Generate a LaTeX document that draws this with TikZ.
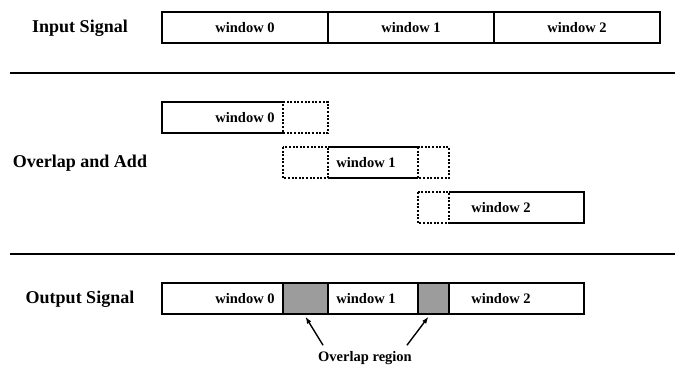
\documentclass[tikz,border=0pt]{standalone}
\usepackage{fontspec}
\setmainfont{Liberation Serif}
\usepackage{tikz}
\usetikzlibrary{arrows.meta, positioning, calc, fit}
\definecolor{overlapgray}{HTML}{9C9C9C}

\begin{document}
\begin{tikzpicture}[x=1pt, y=-1pt,
  window/.style={minimum width=166pt, minimum height=31pt, inner sep=0pt, outer sep=0pt, anchor=north west, font=\fontsize{14.5}{16}\selectfont\bfseries},
  rowlabel/.style={font=\fontsize{18}{20}\selectfont\bfseries},
  solidedge/.style={line width=1.4pt},
  dashedge/.style={line width=1.2pt, dash pattern=on 2pt off 1.6pt},
  rule/.style={line width=1.6pt},
  arrow/.style={-{Latex[length=7pt, width=5pt]}, line width=1.4pt},
]
\useasboundingbox (0,0) rectangle (675,366);

% Input signal
\node[rowlabel] (inlabel) at (80,28) {Input Signal};
\node[window, draw, solidedge] (in0) at (162,12) {window 0};
\node[window, draw, solidedge, right=0pt of in0] (in1) {window 1};
\node[window, draw, solidedge, right=0pt of in1] (in2) {window 2};

\draw[rule] (10,73) -- (675,73);

% Overlap and add
\node[rowlabel] (ovlabel) at (80,163) {Overlap and Add};
\node[window] (ov0) at (162,102) {window 0};
\node[window] (ov1) at (283,147) {window 1};
\node[window] (ov2) at (418,192) {window 2};

\draw[solidedge] (ov1.west |- ov0.north) -- (ov0.north west) -- (ov0.south west) -- (ov1.west |- ov0.south);
\draw[dashedge] (ov1.west |- ov0.north) -- (ov0.north east) -- (ov0.south east) -- (ov1.west |- ov0.south) -- cycle;

\draw[solidedge] (ov0.east |- ov1.north) -- (ov2.west |- ov1.north);
\draw[solidedge] (ov0.east |- ov1.south) -- (ov2.west |- ov1.south);
\draw[dashedge] (ov1.north west) rectangle (ov0.east |- ov1.south);
\draw[dashedge] (ov2.west |- ov1.north) rectangle (ov1.south east);

\draw[dashedge] (ov2.north west) rectangle (ov1.east |- ov2.south);
\draw[solidedge] (ov1.east |- ov2.north) -- (ov2.north east) -- (ov2.south east) -- (ov1.east |- ov2.south);

\draw[rule] (10,254) -- (675,254);

% Output signal
\node[rowlabel] (outlabel) at (80,299) {Output Signal};
\node[window] (out0) at (162,283) {window 0};
\node[window] (out1) at (283,283) {window 1};
\node[window] (out2) at (418,283) {window 2};
\draw[solidedge] (out0.north west) rectangle (out2.south east);
\node[fit=(out1.north west)(out0.south east), inner sep=0pt, draw, solidedge, fill=overlapgray] (gap0) {};
\node[fit=(out2.north west)(out1.south east), inner sep=0pt, draw, solidedge, fill=overlapgray] (gap1) {};

\node[inner sep=0pt, font=\fontsize{14.5}{16}\selectfont\bfseries] (region) at (365,358) {Overlap region};
\draw[arrow] ([xshift=-42pt, yshift=6pt]region.north) -- ([yshift=-2pt]gap0.south);
\draw[arrow] ([xshift=42pt, yshift=6pt]region.north) -- ([xshift=-5pt, yshift=-2pt]gap1.south);

\end{tikzpicture}
\end{document}
